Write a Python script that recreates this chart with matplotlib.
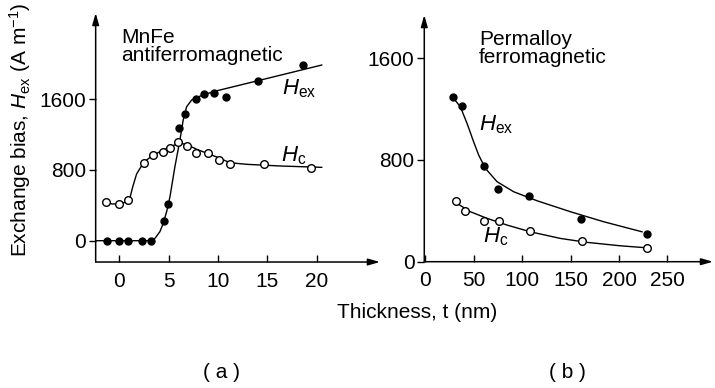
import numpy as np
import matplotlib
matplotlib.use("Agg")
import matplotlib.pyplot as plt

plt.rcParams['font.family'] = ['Liberation Sans', 'DejaVu Sans']
plt.rcParams['mathtext.fontset'] = 'custom'
plt.rcParams['mathtext.rm'] = 'Liberation Sans'
plt.rcParams['mathtext.it'] = 'Liberation Sans:italic'

# (a) MnFe antiferromagnetic - measured points
mnfe_t_ex = [-1.3, 0, 0.9, 2.25, 3.15, 4.5, 4.95, 6.03, 6.64, 7.75, 8.56, 9.54, 10.76, 14.0, 18.6]
mnfe_hex = [0, 0, 0, 0, 0, 219, 415, 1277, 1428, 1598, 1654, 1669, 1620, 1805, 1985]
mnfe_t_c = [-1.4, 0, 0.83, 2.48, 3.36, 4.38, 5.12, 5.96, 6.81, 7.75, 8.94, 10.1, 11.2, 14.6, 19.4]
mnfe_hc = [441, 418, 460, 875, 968, 1006, 1044, 1112, 1070, 994, 988, 912, 867, 863, 818]

# (a) guide curves
mnfe_curve_t_ex = [-2.41, 3.3, 3.6, 4.1, 4.44, 4.78, 5.12, 5.62, 6.13, 6.46, 6.81, 7.32, 7.82, 9.5, 20.5]
mnfe_curve_hex = [0, 0, 27, 102, 197, 328, 497, 836, 1138, 1364, 1514, 1590, 1620, 1684, 1985]
mnfe_curve_t_c = [-1.4, -0.76, 0, 0.66, 1.06, 1.37, 1.74, 2.25, 2.76, 3.36, 4.44, 5.32, 6.13,
                  6.94, 7.82, 9.85, 11.2, 12.9, 16.3, 20.5]
mnfe_curve_hc = [441, 415, 415, 437, 483, 618, 754, 848, 912, 963, 1025, 1070, 1104,
                 1081, 1033, 946, 881, 863, 844, 829]

# (b) Permalloy ferromagnetic - measured points
py_t_ex = [28.6, 38.2, 61.0, 75.4, 106.7, 160.8, 229]
py_hex = [1297, 1224, 754, 573, 516, 333, 217]
py_t_c = [31.7, 40.6, 60.2, 76.4, 108.5, 161.5, 229.3]
py_hc = [477, 400, 322, 317, 241, 160, 105]

# (b) guide curves
py_curve_t_ex = [29.2, 36.2, 43.1, 49.9, 55.1, 62, 74.1, 91.2, 115.4, 149.8, 184.2, 223.8]
py_curve_hex = [1285, 1218, 1088, 943, 839, 734, 629, 550, 479, 393, 314, 235]
py_curve_t_c = [32.7, 46.5, 63.7, 84.4, 108.5, 139.5, 167, 201.4, 229]
py_curve_hc = [459, 393, 341, 288, 235, 183, 152, 125, 109]

left_xticks = [0, 5, 10, 15, 20]
right_xticks = [0, 50, 100, 150, 200, 250]
yticks = [0, 800, 1600]

fs = 15
fig = plt.figure(figsize=(7.15, 3.88), dpi=100)
ax1 = fig.add_axes([0.1338, 0.3247, 0.3976, 0.6418])
ax2 = fig.add_axes([0.5934, 0.3255, 0.4038, 0.6358])


def arrow_axes(ax):
    for s in ['top', 'right', 'left', 'bottom']:
        ax.spines[s].set_visible(False)
    kw = dict(arrowstyle='-|>,head_length=0.7,head_width=0.2', color='black', lw=1.1,
              shrinkA=0, shrinkB=0)
    ax.annotate('', xy=(1, 0), xytext=(0, 0), xycoords='axes fraction', arrowprops=kw)
    ax.annotate('', xy=(0, 1), xytext=(0, 0), xycoords='axes fraction', arrowprops=kw)
    ax.tick_params(axis='x', direction='in', length=5, width=1, labelsize=fs, pad=7)
    ax.tick_params(axis='y', direction='out', length=5, width=1, labelsize=fs, pad=2)


ax1.plot(mnfe_curve_t_ex, mnfe_curve_hex, color='black', lw=1.0)
ax1.plot(mnfe_curve_t_c, mnfe_curve_hc, color='black', lw=1.0)
ax1.plot(mnfe_t_ex, mnfe_hex, 'o', color='black', ms=5, clip_on=False)
ax1.plot(mnfe_t_c, mnfe_hc, 'o', mfc='white', mec='black', mew=1, ms=5.5, clip_on=False)
ax1.set_xlim(-2.41, 26.4)
ax1.set_ylim(-241, 2573)
ax1.set_xticks(left_xticks)
ax1.set_yticks(yticks)
arrow_axes(ax1)
ax1.text(0.09, 0.94, 'MnFe\nantiferromagnetic', transform=ax1.transAxes, fontsize=fs,
         va='top', ha='left', linespacing=0.95)
ax1.text(16.5, 1650, r'$H_{\mathrm{ex}}$', fontsize=fs + 1)
ax1.text(16.4, 900, r'$H_{\mathrm{c}}$', fontsize=fs + 1)

ax2.plot(py_curve_t_ex, py_curve_hex, color='black', lw=1.0)
ax2.plot(py_curve_t_c, py_curve_hc, color='black', lw=1.0)
ax2.plot(py_t_ex, py_hex, 'o', color='black', ms=5, clip_on=False)
ax2.plot(py_t_c, py_hc, 'o', mfc='white', mec='black', mew=1, ms=5.5, clip_on=False)
ax2.set_xlim(-1, 297)
ax2.set_ylim(0, 1939)
ax2.set_xticks(right_xticks)
ax2.set_yticks(yticks)
arrow_axes(ax2)
ax2.text(0.19, 0.94, 'Permalloy\nferromagnetic', transform=ax2.transAxes, fontsize=fs,
         va='top', ha='left', linespacing=0.95)
ax2.text(55, 1030, r'$H_{\mathrm{ex}}$', fontsize=fs + 1)
ax2.text(60, 150, r'$H_{\mathrm{c}}$', fontsize=fs + 1)

fig.text(0.028, 0.665, r'Exchange bias, $H_{\mathrm{ex}}$ (A m$^{-1}$)', rotation=90,
         fontsize=fs, ha='center', va='center')
fig.text(0.583, 1 - 313 / 388, 'Thickness, t (nm)', fontsize=fs, ha='center', va='center')
fig.text(0.31, 1 - 372 / 388, '( a )', fontsize=fs, ha='center', va='center')
fig.text(0.794, 1 - 372 / 388, '( b )', fontsize=fs, ha='center', va='center')

fig.savefig('out.png', dpi=100)
